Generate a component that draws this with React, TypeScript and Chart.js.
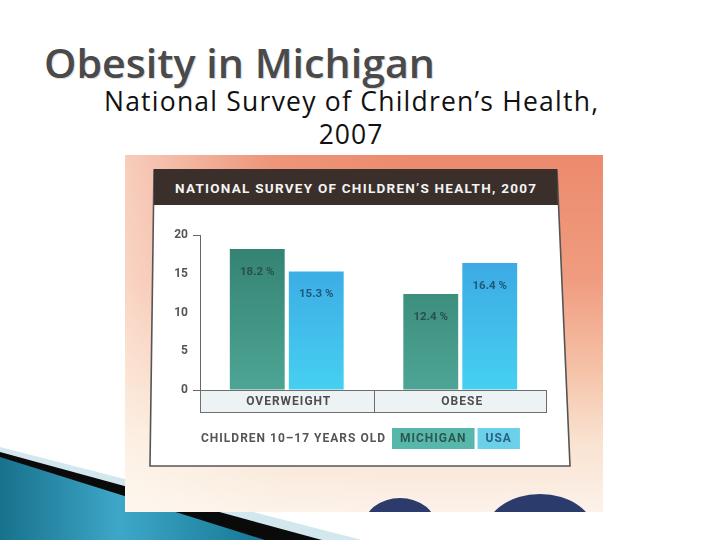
import React, { useEffect, useRef } from "react";
import { Chart, registerables } from "chart.js";

Chart.register(...registerables);

const categories = ["OVERWEIGHT", "OBESE"];
const seriesNames = ["MICHIGAN", "USA"];
const michiganValues = [18.2, 12.4];
const usaValues = [15.3, 16.4];
const yTickValues = [0, 5, 10, 15, 20];
const legendCaption = "CHILDREN 10–17 YEARS OLD";
const slideTitle = "Obesity in Michigan";
const subtitleLines = ["National Survey of Children’s Health,", "2007"];
const cardHeader = "NATIONAL SURVEY OF CHILDREN’S HEALTH, 2007";

const FONT = "Roboto, 'DejaVu Sans Condensed', sans-serif";

function gradientFor(chart: any, top: string, bottom: string, fallback: string) {
  const a = chart.chartArea;
  if (!a) return fallback;
  const g = chart.ctx.createLinearGradient(0, a.top, 0, a.bottom);
  g.addColorStop(0, top);
  g.addColorStop(1, bottom);
  return g;
}

const decorPlugin = {
  id: "decor",
  afterDatasetsDraw(chart: any) {
    const { ctx } = chart;
    const labelColors = ["#2a504a", "#1f5878"];
    ctx.save();
    ctx.font = `700 11.5px ${FONT}`;
    ctx.textAlign = "center";
    ctx.textBaseline = "middle";
    chart.data.datasets.forEach((ds: any, i: number) => {
      const meta = chart.getDatasetMeta(i);
      meta.data.forEach((bar: any, j: number) => {
        ctx.fillStyle = labelColors[i];
        ctx.fillText(`${ds.data[j]} %`, bar.x, bar.y + 23);
      });
    });
    ctx.restore();
  },
  afterDraw(chart: any) {
    const { ctx, chartArea: a, scales } = chart;
    const xs = scales.x;
    const h = 22;
    ctx.save();
    // category box
    ctx.fillStyle = "#edf2f4";
    ctx.fillRect(a.left, a.bottom, a.right - a.left, h);
    ctx.strokeStyle = "#6e6e6e";
    ctx.lineWidth = 1;
    ctx.strokeRect(a.left + 0.5, a.bottom + 0.5, a.right - a.left - 1, h);
    for (let i = 1; i < categories.length; i++) {
      const bx = Math.round((xs.getPixelForValue(i - 1) + xs.getPixelForValue(i)) / 2) + 0.5;
      ctx.beginPath();
      ctx.moveTo(bx, a.bottom);
      ctx.lineTo(bx, a.bottom + h);
      ctx.stroke();
    }
    ctx.fillStyle = "#4e4e4e";
    ctx.font = `700 12px ${FONT}`;
    (ctx as any).letterSpacing = "1px";
    ctx.textAlign = "center";
    ctx.textBaseline = "middle";
    categories.forEach((c, i) => {
      ctx.fillText(c, xs.getPixelForValue(i) + 2, a.bottom + h / 2 + 1);
    });
    // legend
    const ly = a.bottom + 49;
    ctx.textAlign = "left";
    ctx.fillStyle = "#555";
    ctx.fillText(legendCaption, a.left + 1, ly);
    let lx = a.left + 192;
    const boxFill = ["#58b7ab", "#6bd0ea"];
    const boxText = ["#2c5852", "#2a6282"];
    chart.data.datasets.forEach((ds: any, i: number) => {
      const w = ctx.measureText(ds.label).width + 16;
      ctx.fillStyle = boxFill[i];
      ctx.fillRect(lx, ly - 11, w, 21);
      ctx.fillStyle = boxText[i];
      ctx.fillText(ds.label, lx + 8, ly);
      lx += w + 3;
    });
    ctx.restore();
  },
};

function BarChart() {
  const ref = useRef<HTMLCanvasElement | null>(null);
  useEffect(() => {
    if (!ref.current) return;
    const chart = new Chart(ref.current, {
      type: "bar",
      data: {
        labels: categories,
        datasets: [
          {
            label: seriesNames[0],
            data: michiganValues,
            backgroundColor: (c: any) => gradientFor(c.chart, "#32806f", "#4ea595", "#3f9484"),
          },
          {
            label: seriesNames[1],
            data: usaValues,
            backgroundColor: (c: any) => gradientFor(c.chart, "#3aa2e2", "#46d0f0", "#3ec4ec"),
          },
        ],
      },
      options: {
        responsive: false,
        animation: false,
        events: [],
        layout: { padding: { left: 160, right: 173, top: 235, bottom: 150 } },
        datasets: { bar: { categoryPercentage: 0.68, barPercentage: 0.93 } },
        plugins: { legend: { display: false }, tooltip: { enabled: false }, title: { display: false } },
        scales: {
          x: { display: false },
          y: {
            min: 0,
            max: 20,
            afterFit: (s: any) => { s.width = 40; },
            afterBuildTicks: (s: any) => { s.ticks = yTickValues.map((v) => ({ value: v })); },
            ticks: {
              padding: 5,
              color: "#555",
              font: { family: FONT, weight: "bold", size: 12 },
            },
            grid: {
              display: true,
              drawOnChartArea: false,
              drawTicks: true,
              tickLength: 7,
              tickColor: (c: any) =>
                c.tick && (c.tick.value === 20 || c.tick.value === 0) ? "#666" : "rgba(0,0,0,0)",
            },
            border: { display: true, color: "#666", width: 1 },
          },
        },
      },
      plugins: [decorPlugin],
    } as any);
    return () => chart.destroy();
  }, []);
  return (
    <canvas
      ref={ref}
      width={720}
      height={540}
      style={{ position: "absolute", left: 0, top: 0, width: 720, height: 540 }}
    />
  );
}

export default function App() {
  return (
    <div style={{ position: "absolute", left: 0, top: 0, width: 720, height: 540, overflow: "hidden", background: "#fff" }}>
      <svg width={720} height={540} style={{ position: "absolute", left: 0, top: 0 }}>
        <defs>
          <linearGradient id="swoosh" x1="0" y1="0" x2="1" y2="0">
            <stop offset="0" stopColor="#17718c" />
            <stop offset="0.45" stopColor="#3ea7c8" />
            <stop offset="1" stopColor="#157794" />
          </linearGradient>
          <linearGradient id="photoV" x1="0" y1="0" x2="0" y2="1">
            <stop offset="0" stopColor="#ec8a6c" />
            <stop offset="0.35" stopColor="#f09c80" />
            <stop offset="0.6" stopColor="#f5c2a7" />
            <stop offset="0.8" stopColor="#f9e2d0" />
            <stop offset="1" stopColor="#fcf2ea" />
          </linearGradient>
          <linearGradient id="photoH" x1="0" y1="0" x2="1" y2="0">
            <stop offset="0" stopColor="#fffaf2" stopOpacity="0.6" />
            <stop offset="0.3" stopColor="#fffaf2" stopOpacity="0.1" />
            <stop offset="0.6" stopColor="#fffaf2" stopOpacity="0" />
          </linearGradient>
          <clipPath id="photoClip">
            <rect x={125} y={155} width={478} height={357} />
          </clipPath>
        </defs>
        {/* swoosh decoration */}
        <polygon points="0,447 362,540 0,540" fill="#d3e7ee" />
        <polygon points="0,452 322,540 0,540" fill="#0a0a0a" />
        <polygon points="0,457 265,540 0,540" fill="url(#swoosh)" />
        {/* photo */}
        <g clipPath="url(#photoClip)">
          <rect x={125} y={155} width={478} height={357} fill="url(#photoV)" />
          <rect x={125} y={155} width={478} height={357} fill="url(#photoH)" />
          <ellipse cx={400} cy={526} rx={36} ry={28} fill="#2b3c6c" />
          <ellipse cx={540} cy={534} rx={55} ry={40} fill="#2b3c6c" />
          <polygon points="154,170 557,170 570,466 150,466" fill="#fff" stroke="#555" strokeWidth={1.6} />
          <polygon points="154,169 557,169 558,205 154,205" fill="#3b2f2b" />
          <text x={175} y={193} fill="#f4f4f4" fontFamily={FONT} fontWeight={700} fontSize={13.5} textLength={361} lengthAdjust="spacing">
            {cardHeader}
          </text>
        </g>
        {/* titles */}
        <text x={45} y={79} fill="#dcdcdc" fontFamily="'Open Sans', sans-serif" fontWeight={600} fontSize={40} textLength={391} lengthAdjust="spacingAndGlyphs">
          {slideTitle}
        </text>
        <text x={44} y={78} fill="#4a4a4a" fontFamily="'Open Sans', sans-serif" fontWeight={600} fontSize={40} textLength={391} lengthAdjust="spacingAndGlyphs">
          {slideTitle}
        </text>
        <text x={104} y={111} fill="#111" fontFamily="'Open Sans', sans-serif" fontSize={26.5} textLength={494} lengthAdjust="spacing">
          {subtitleLines[0]}
        </text>
        <text x={351} y={144} fill="#111" fontFamily="'Open Sans', sans-serif" fontSize={26.5} textAnchor="middle" letterSpacing={1}>
          {subtitleLines[1]}
        </text>
      </svg>
      <BarChart />
    </div>
  );
}
